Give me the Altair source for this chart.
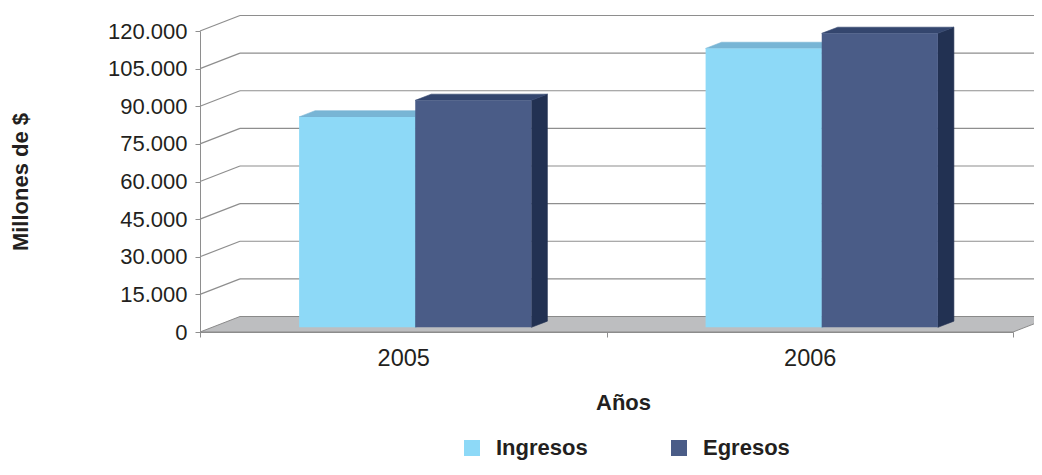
import altair as alt
import pandas as pd

# ---- data ----
YEARS = ["2005", "2006"]
SERIES = ["Ingresos", "Egresos"]
INGRESOS = [83900, 111200]
EGRESOS = [90500, 117200]
VALUES = {"Ingresos": INGRESOS, "Egresos": EGRESOS}
Y_TICKS = [0, 15000, 30000, 45000, 60000, 75000, 90000, 105000, 120000]

# ---- styling ----
FRONT = ["#8DD9F7", "#4A5C87"]
TOP = ["#78B5D5", "#34466E"]
SIDE = ["#5FA8CC", "#223152"]
TEXT = "#231f20"
GRID = "#8e8e8e"
FONT = "Liberation Sans"

W, H = 813, 301                       # plot area in px
X_MAX = len(YEARS)
Y_MAX = Y_TICKS[-1]
UX = X_MAX / W                        # data units per px
UY = Y_MAX / H
DEPTH_X = 40 * UX                     # oblique depth of the 3D box
DEPTH_Y = 15.5 * UY
F0, F1 = 0.3, 0.7                     # depth slab occupied by the bars
GAP = 1.5                             # gap width (fraction of bar width)
BW = 1.0 / (len(SERIES) + GAP)

# ---- gridlines on the back wall ----
grid_rows = []
for v in Y_TICKS[1:]:
    grid_rows.append({"x": 0, "x2": DEPTH_X, "y": v, "y2": v + DEPTH_Y})
    grid_rows.append({"x": DEPTH_X, "x2": X_MAX + DEPTH_X, "y": v + DEPTH_Y, "y2": v + DEPTH_Y})
grid_df = pd.DataFrame(grid_rows)

# ---- floor ----
floor_df = pd.DataFrame([
    {"x": 0, "y": 0, "y2": 0},
    {"x": DEPTH_X, "y": 0, "y2": DEPTH_Y},
    {"x": X_MAX, "y": 0, "y2": DEPTH_Y},
    {"x": X_MAX + DEPTH_X, "y": DEPTH_Y, "y2": DEPTH_Y},
])

# ---- bars (front, top, side faces) ----
front_rows, top_rows, side_rows = [], [], []
dd = (F1 - F0) * DEPTH_X
ddy = (F1 - F0) * DEPTH_Y
for g, year in enumerate(YEARS):
    for s, serie in enumerate(SERIES):
        v = VALUES[serie][g]
        L = g + GAP * BW / 2 + s * BW + F0 * DEPTH_X
        R = L + BW
        b = F0 * DEPTH_Y
        t = v + b
        front_rows.append({"serie": serie, "year": year, "x": L, "x2": R, "y": b, "y2": t})
        fid = f"{g}-{s}"
        for x, y, y2 in [(L, t, t), (L + dd, t, t + ddy), (R, t, t + ddy), (R + dd, t + ddy, t + ddy)]:
            top_rows.append({"id": fid, "x": x, "y": y, "y2": y2, "col": TOP[s]})
        for x, y, y2 in [(R, b, t), (R + dd, b + ddy, t + ddy)]:
            side_rows.append({"id": fid, "x": x, "y": y, "y2": y2, "col": SIDE[s]})
front_df = pd.DataFrame(front_rows)
top_df = pd.DataFrame(top_rows)
side_df = pd.DataFrame(side_rows)

xscale = alt.Scale(domain=[0, X_MAX], nice=False, zero=False)
yscale = alt.Scale(domain=[0, Y_MAX], nice=False, zero=True)

label_expr_x = " : ".join(
    [f"datum.value == {i + 0.5} ? '{y}'" for i, y in enumerate(YEARS)]
) + " : ''"
X_AXIS = dict(
    values=sorted([float(i) for i in range(X_MAX + 1)] + [i + 0.5 for i in range(X_MAX)]),
    labelExpr=label_expr_x,
    title="Años",
    titleFont=FONT, titleFontSize=22, titleFontWeight="bold", titleColor=TEXT,
    titleX=423, titleY=60, titleAlign="center", titleBaseline="top",
    labelFont=FONT, labelFontSize=23.5, labelColor=TEXT, labelPadding=9,
    labelOverlap=False, labelFlush=False,
    tickSize=5, tickColor=GRID, domainColor=GRID, grid=False,
    tickOpacity={"condition": {"test": "datum.value % 1 != 0", "value": 0}, "value": 1},
)
Y_AXIS = dict(
    values=Y_TICKS,
    labelExpr="replace(format(datum.value, ','), ',', '.')",
    title="Millones de $",
    titleFont=FONT, titleFontSize=22, titleFontWeight="bold", titleColor=TEXT,
    titleX=-180, titleY=H / 2, titleAngle=270, titleAlign="center", titleBaseline="middle",
    labelFont=FONT, labelFontSize=22, labelColor=TEXT, labelPadding=8,
    labelOverlap=False,
    tickSize=5, tickColor=GRID, domainColor=GRID, grid=False,
)


def X(field):
    return alt.X(field, scale=xscale, axis=alt.Axis(**X_AXIS))


def Y(field, **kw):
    return alt.Y(field, scale=yscale, axis=alt.Axis(**Y_AXIS), **kw)


grid = alt.Chart(grid_df).mark_rule(color=GRID, strokeWidth=1.2).encode(
    x=X("x:Q"), x2="x2:Q", y=Y("y:Q"), y2="y2:Q",
)

floor = alt.Chart(floor_df).mark_area(
    color="#BDBEC0", stroke="#8a8a8a", strokeWidth=1, opacity=1
).encode(
    x=X("x:Q"), y=Y("y:Q", stack=None), y2="y2:Q",
)

side = alt.Chart(side_df).mark_area(strokeWidth=0.6, opacity=1).encode(
    x=X("x:Q"), y=Y("y:Q", stack=None), y2="y2:Q",
    detail="id:N",
    fill=alt.Fill("col:N", scale=None),
    stroke=alt.Stroke("col:N", scale=None),
)

top = alt.Chart(top_df).mark_area(strokeWidth=0.6, opacity=1).encode(
    x=X("x:Q"), y=Y("y:Q", stack=None), y2="y2:Q",
    detail="id:N",
    fill=alt.Fill("col:N", scale=None),
    stroke=alt.Stroke("col:N", scale=None),
)

front = alt.Chart(front_df).mark_rect(opacity=1).encode(
    x=X("x:Q"), x2="x2:Q", y=Y("y:Q"), y2="y2:Q",
    color=alt.Color(
        "serie:N",
        scale=alt.Scale(domain=SERIES, range=FRONT),
        sort=SERIES,
        legend=alt.Legend(
            title=None, orient="none", legendX=261, legendY=406,
            direction="horizontal", symbolType="square", symbolSize=256,
            symbolStrokeWidth=0, symbolOpacity=1,
            labelFont=FONT, labelFontSize=22, labelFontWeight="bold", labelColor=TEXT,
            labelOffset=13, columnPadding=80, padding=0,
        ),
    ),
)

chart = alt.layer(grid, floor, side, top, front).properties(
    width=W, height=H,
    padding={"left": 192, "top": 23, "right": 21, "bottom": 131},
    autosize="none",
).configure(background="white", view=alt.ViewConfig(stroke=None))

chart.save("out.html", embed_options={"renderer": "svg", "actions": False})
